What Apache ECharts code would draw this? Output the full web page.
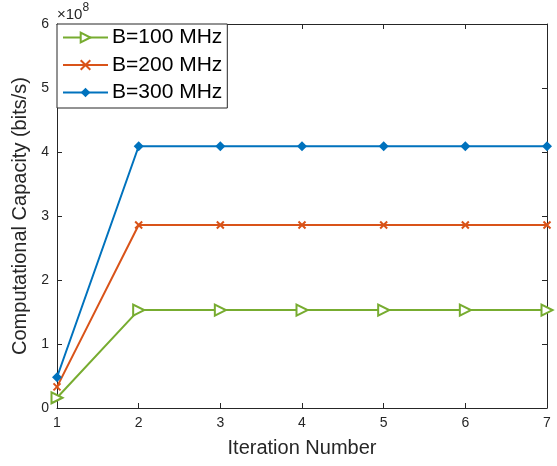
<!DOCTYPE html>
<html><head><meta charset="utf-8">
<script src="https://cdn.jsdelivr.net/npm/echarts@6/dist/echarts.min.js"></script>
<style>html,body{margin:0;padding:0;background:#fff}#c{width:557px;height:466px}</style>
</head><body><div id="c"></div>
<script>
const iterations = [1, 2, 3, 4, 5, 6, 7];
const b100 = [0.16, 1.53, 1.53, 1.53, 1.53, 1.53, 1.53];
const b200 = [0.33, 2.86, 2.86, 2.86, 2.86, 2.86, 2.86];
const b300 = [0.48, 4.09, 4.09, 4.09, 4.09, 4.09, 4.09];
const seriesNames = ['B=100 MHz', 'B=200 MHz', 'B=300 MHz'];
const yTicks = [0, 1, 2, 3, 4, 5, 6];

const F = 'Liberation Sans, Arial, Helvetica, sans-serif';
const axisCol = '#262626';
const pairs = arr => iterations.map((x, i) => [x, arr[i]]);
const chart = echarts.init(document.getElementById('c'));
const baseX = {
  type: 'value', min: 1, max: 7, interval: 1,
  axisLine: {show: true, onZero: false, lineStyle: {color: axisCol, width: 1}},
  axisTick: {show: true, inside: true, length: 5, lineStyle: {color: axisCol}},
  splitLine: {show: false}
};
const baseY = {
  type: 'value', min: 0, max: 6, interval: 1,
  axisLine: {show: true, onZero: false, lineStyle: {color: axisCol, width: 1}},
  axisTick: {show: true, inside: true, length: 5, lineStyle: {color: axisCol}},
  splitLine: {show: false}
};
chart.setOption({
  animation: false,
  backgroundColor: '#fff',
  grid: {left: 57, right: 10, top: 24, bottom: 58, containLabel: false},
  xAxis: [
    Object.assign({}, baseX, {position: 'bottom',
      name: 'Iteration Number', nameLocation: 'middle', nameGap: 30,
      nameTextStyle: {fontFamily: F, fontSize: 20, color: axisCol},
      axisLabel: {fontFamily: F, fontSize: 14, color: axisCol, margin: 8}}),
    Object.assign({}, baseX, {position: 'top', axisLabel: {show: false}})
  ],
  yAxis: [
    Object.assign({}, baseY, {position: 'left',
      name: 'Computational Capacity (bits/s)', nameLocation: 'middle', nameGap: 24,
      nameTextStyle: {fontFamily: F, fontSize: 20, color: axisCol},
      axisLabel: {fontFamily: F, fontSize: 14, color: axisCol, margin: 8,
        formatter: v => yTicks.includes(v) ? String(v) : ''}}),
    Object.assign({}, baseY, {position: 'right', axisLabel: {show: false}})
  ],
  legend: {
    orient: 'vertical', left: 57, top: 24,
    backgroundColor: '#fff', borderColor: axisCol, borderWidth: 1,
    padding: [3, 5, 5, 5], itemGap: 6.5, itemWidth: 45, itemHeight: 12,
    textStyle: {fontFamily: F, fontSize: 21, color: '#000', padding: [0, 0, 0, -1]},
    data: seriesNames
  },
  graphic: [{
    type: 'text', left: 57, top: 2,
    style: {
      text: '{a|×10}{b|8}',
      rich: {
        a: {fontFamily: F, fontSize: 15, fill: axisCol, verticalAlign: 'bottom'},
        b: {fontFamily: F, fontSize: 12, fill: axisCol, verticalAlign: 'top', padding: [0, 0, 8, 0]}
      }
    }
  }],
  series: [
    {name: seriesNames[0], type: 'line', data: pairs(b100),
     lineStyle: {color: '#77AC30', width: 2}, color: '#77AC30',
     symbol: 'emptyTriangle', symbolRotate: -90, symbolSize: 11,
     itemStyle: {color: '#77AC30', borderColor: '#77AC30', borderWidth: 2}},
    {name: seriesNames[1], type: 'line', data: pairs(b200),
     lineStyle: {color: '#D95319', width: 2}, color: '#D95319',
     symbol: 'path://M0,0L10,10M10,0L0,10', symbolSize: 7,
     itemStyle: {color: '#D95319', borderColor: '#D95319', borderWidth: 2}},
    {name: seriesNames[2], type: 'line', data: pairs(b300),
     lineStyle: {color: '#0072BD', width: 2}, color: '#0072BD',
     symbol: 'diamond', symbolSize: 10,
     itemStyle: {color: '#0072BD'}}
  ]
});
</script></body></html>
